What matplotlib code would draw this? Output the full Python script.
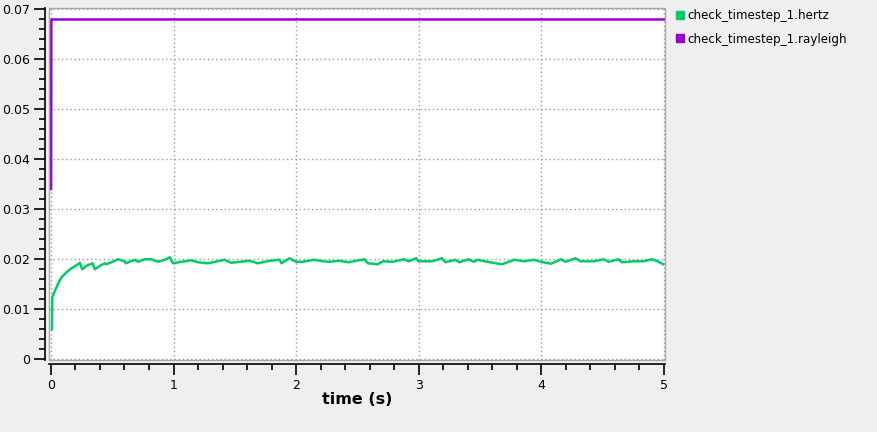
import numpy as np
import matplotlib.pyplot as plt
from matplotlib.lines import Line2D
from matplotlib.patches import Rectangle
from matplotlib.ticker import MultipleLocator

# hertz series
t_hertz = [0.008, 0.011, 0.033, 0.06, 0.087, 0.128, 0.168, 0.209, 0.236, 0.255,
           0.29, 0.34, 0.358, 0.40, 0.44, 0.45, 0.494, 0.548, 0.60, 0.61,
           0.684, 0.71, 0.765, 0.82, 0.874, 0.928, 0.97, 0.996, 1.064, 1.146,
           1.2, 1.28, 1.34, 1.417, 1.47, 1.58, 1.62, 1.688, 1.783, 1.865,
           1.88, 1.946, 2.0, 2.05, 2.15, 2.22, 2.27, 2.35, 2.43, 2.557,
           2.585, 2.665, 2.71, 2.79, 2.88, 2.92, 2.98, 3.0, 3.11, 3.19,
           3.22, 3.30, 3.33, 3.41, 3.45, 3.48, 3.56, 3.68, 3.78, 3.86,
           3.94, 4.0, 4.08, 4.16, 4.2, 4.28, 4.32, 4.43, 4.51, 4.55,
           4.63, 4.66, 4.75, 4.83, 4.905, 4.95, 4.995]
v_hertz = [0.0059, 0.0123, 0.0136, 0.0151, 0.0163, 0.0173, 0.0181, 0.0187, 0.0192, 0.0179,
           0.0186, 0.0191, 0.0179, 0.0186, 0.0191, 0.0189, 0.0193, 0.0199, 0.0195, 0.0191,
           0.0198, 0.0194, 0.0199, 0.0199, 0.0194, 0.0198, 0.0203, 0.0191, 0.0194, 0.0197,
           0.0193, 0.0191, 0.0194, 0.0198, 0.0192, 0.0195, 0.0196, 0.0191, 0.0196, 0.0198,
           0.0191, 0.0201, 0.0194, 0.0194, 0.0198, 0.0195, 0.0194, 0.0196, 0.0193, 0.0199,
           0.0191, 0.0189, 0.0195, 0.0194, 0.0199, 0.0195, 0.0201, 0.0195, 0.0195, 0.0201,
           0.0193, 0.0198, 0.0193, 0.0199, 0.0194, 0.0198, 0.0194, 0.0189, 0.0198, 0.0195,
           0.0198, 0.0194, 0.0190, 0.0199, 0.0194, 0.0201, 0.0195, 0.0195, 0.0199, 0.0194,
           0.0199, 0.0193, 0.0195, 0.0195, 0.0199, 0.0195, 0.0189]

# rayleigh jumps almost at once to a flat value
t_rayleigh = [0.001, 0.003, 5.0]
v_rayleigh = [0.034, 0.068, 0.068]

labels = ["check_timestep_1.hertz", "check_timestep_1.rayleigh"]
colors = ["#00cc66", "#9900cc"]

bg = "#efefef"
fig = plt.figure(figsize=(8.77, 4.32), dpi=100, facecolor=bg)
ax = fig.add_axes([49/877, 72/432, 616/877, 352/432])
ax.set_facecolor("white")

ax.plot(t_hertz, v_hertz, color=colors[0], lw=1.8)
ax.plot(t_rayleigh, v_rayleigh, color=colors[1], lw=1.8)

ax.set_xlim(-0.016, 5.01)
ax.set_ylim(-0.0003, 0.0703)
ax.xaxis.set_major_locator(MultipleLocator(1))
ax.xaxis.set_minor_locator(MultipleLocator(0.2))
ax.yaxis.set_major_locator(MultipleLocator(0.01))
ax.yaxis.set_minor_locator(MultipleLocator(0.002))
ax.xaxis.set_major_formatter(plt.FuncFormatter(lambda v, p: f"{v:g}"))
ax.yaxis.set_major_formatter(plt.FuncFormatter(lambda v, p: f"{v:.2f}" if v > 1e-9 else "0"))

ax.grid(True, which="major", color="#999999", ls=(0, (1, 2)), lw=1)

for s in ["top", "right"]:
    ax.spines[s].set_visible(False)
for s in ["left", "bottom"]:
    ax.spines[s].set_position(("outward", 3))
    ax.spines[s].set_linewidth(1.2)
ax.add_patch(Rectangle((0, 0), 1, 1, transform=ax.transAxes, fill=False,
                       ec="#a8a8a8", lw=1, clip_on=False, zorder=5))

ax.tick_params(which="major", length=8, width=1.2, labelsize=9, colors="black", pad=2.5)
ax.tick_params(which="minor", length=4, width=1.2)

ax.set_xlabel("time (s)", fontsize=11.5, fontweight="bold", labelpad=0)

handles = [Line2D([], [], ls="none", marker="s", ms=5.5, color=c) for c in colors]
fig.legend(handles, labels, loc="upper left", bbox_to_anchor=(665/877, 1 + 2/432),
           frameon=False, fontsize=8.6, handlelength=0.7, handletextpad=0.25,
           labelspacing=0.9)

fig.savefig("out.png", dpi=100, facecolor=bg)
